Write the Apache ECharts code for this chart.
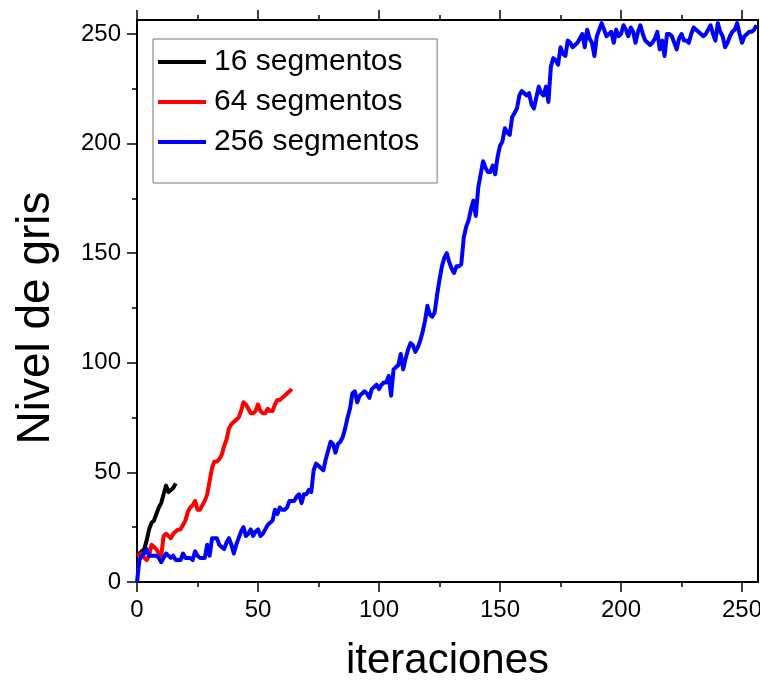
<!DOCTYPE html>
<html>
<head>
<meta charset="utf-8">
<script src="https://cdn.jsdelivr.net/npm/echarts@6/dist/echarts.min.js"></script>
<style>
  html, body { margin: 0; padding: 0; background: #fff; }
  #chart { width: 760px; height: 683px; }
</style>
</head>
<body>
<div id="chart"></div>
<script>
// Gray level reached per iteration, for three segment counts
const seriesNames = ['16 segmentos', '64 segmentos', '256 segmentos'];

const gris16 = [12, 13, 14, 15, 19, 24, 27, 28, 31, 34, 36, 40, 44, 41, 42, 43, 45];

const gris64 = [
  12, 12.5, 13, 11, 10, 12, 17, 16, 15, 13,
  12, 21, 22, 21, 20, 22, 23, 24, 24, 26,
  28, 32, 34, 35, 37, 33, 33, 35, 37, 40,
  46, 52, 55, 55, 56, 58, 62, 65, 70, 72,
  73, 74, 75, 78, 82, 81, 79, 77, 77, 78,
  81, 78, 77, 77, 79, 78, 78, 81, 83, 83,
  84, 85, 86, 87, 88
];

const gris256 = [
  0, 10, 12, 13, 15, 12, 12, 12, 12, 11,
  9, 11, 13, 12, 11, 12, 10, 10, 10, 13,
  11, 11, 11, 10, 14, 12, 11, 11, 11, 17,
  12, 20, 20, 20, 17, 16, 15, 18, 20, 17,
  13, 17, 20, 23, 25, 21, 22, 24, 21, 23,
  24, 21, 22, 24, 26, 27, 28, 33, 31, 34,
  33, 33, 34, 37, 37, 37, 39, 40, 36, 40,
  40, 42, 41, 51, 54, 53, 52, 51, 56, 60,
  64, 63, 59, 63, 64, 66, 70, 75, 79, 86,
  87, 82, 85, 86, 87, 86, 84, 88, 89, 90,
  88, 90, 91, 91, 94, 85, 97, 98, 99, 104,
  97, 102, 106, 109, 108, 105, 107, 110, 114, 119,
  126, 122, 121, 123, 131, 138, 144, 148, 150, 146,
  143, 141, 144, 144, 145, 157, 162, 165, 170, 174,
  167, 180, 186, 192, 189, 187, 187, 190, 186, 194,
  199, 201, 207, 205, 204, 212, 214, 216, 222, 224,
  223, 222, 223, 218, 216, 221, 226, 223, 222, 226,
  219, 235, 239, 238, 236, 244, 241, 240, 247, 246,
  244, 245, 246, 248, 250, 244, 252, 248, 246, 240,
  249, 252, 255, 252, 249, 250, 251, 246, 252, 249,
  250, 254, 252, 249, 253, 251, 246, 251, 254, 250,
  247, 246, 245, 246, 248, 251, 243, 247, 240, 250,
  250, 249, 246, 243, 248, 250, 247, 247, 246, 250,
  253, 252, 251, 250, 249, 250, 252, 254, 250, 247,
  255, 251, 249, 244, 246, 249, 251, 252, 255, 250,
  246, 249, 250, 251, 251, 252, 254
];

// tick positions (major ones carry the labels)
const majorTicks = [0, 50, 100, 150, 200, 250];
const minorTicks = [0, 25, 50, 75, 100, 125, 150, 175, 200, 225, 250];

const xTitle = 'iteraciones';
const yTitle = 'Nivel de gris';
const xMax = 256.6;
const yMax = 256.4;

const FONT = "'Liberation Sans', Arial, sans-serif";
const colors = ['#000000', '#ff0000', '#0000ff'];

// pair each value with its iteration number
const toPairs = arr => arr.map((v, i) => [i, v]);

const chart = echarts.init(document.getElementById('chart'), null, { renderer: 'canvas' });

const frameLine = { show: true, onZero: false, lineStyle: { color: '#000', width: 2 } };
const tickStyle = { color: '#000', width: 1.5 };

function axis(kind, pos, opts) {
  const max = kind === 'x' ? xMax : yMax;
  const base = {
    type: 'value', position: pos, min: 0, max: max, interval: 50,
    splitLine: { show: false },
    axisLine: { show: false, onZero: false },
    axisLabel: { show: false },
    axisTick: { show: false }
  };
  return Object.assign(base, opts);
}

const majorTick = { show: true, inside: false, length: 10, customValues: majorTicks, lineStyle: tickStyle };
const minorTick = { show: true, inside: false, length: 5, customValues: minorTicks, lineStyle: tickStyle };
const tickLabel = { show: true, fontSize: 24, color: '#000', margin: 16, fontFamily: FONT, customValues: majorTicks };

const option = {
  animation: false,
  backgroundColor: '#fff',
  textStyle: { fontFamily: FONT },
  grid: { left: 137, right: 2, top: 20, bottom: 101, containLabel: false, outerBoundsMode: 'none' },
  legend: {
    data: seriesNames,
    orient: 'vertical',
    left: 153,
    top: 39,
    padding: [8, 18, 26, 5],
    itemGap: 10,
    itemWidth: 48,
    itemHeight: 4,
    icon: 'rect',
    borderColor: '#777',
    borderWidth: 1,
    backgroundColor: '#fff',
    textStyle: { fontSize: 30, color: '#000', fontFamily: FONT, lineHeight: 30, padding: [0, 0, 0, 3] }
  },
  xAxis: [
    axis('x', 'bottom', {
      name: xTitle, nameLocation: 'middle', nameGap: 58,
      nameTextStyle: { fontSize: 42, color: '#000', fontFamily: FONT },
      axisLine: frameLine, axisTick: majorTick, axisLabel: tickLabel
    }),
    axis('x', 'bottom', { axisTick: minorTick }),
    axis('x', 'top', { axisLine: frameLine, axisTick: majorTick }),
    axis('x', 'top', { axisTick: minorTick })
  ],
  yAxis: [
    axis('y', 'left', {
      name: yTitle, nameLocation: 'middle', nameGap: 78,
      nameTextStyle: { fontSize: 46, color: '#000', fontFamily: FONT, padding: [0, 34, 0, 0] },
      axisLine: frameLine, axisTick: majorTick, axisLabel: tickLabel
    }),
    axis('y', 'left', { axisTick: minorTick }),
    axis('y', 'right', { axisLine: frameLine })
  ],
  series: [
    { name: seriesNames[0], data: toPairs(gris16) },
    { name: seriesNames[1], data: toPairs(gris64) },
    { name: seriesNames[2], data: toPairs(gris256) }
  ].map((s, i) => Object.assign({
    type: 'line',
    xAxisIndex: 0,
    yAxisIndex: 0,
    showSymbol: false,
    symbol: 'none',
    clip: true,
    color: colors[i],
    itemStyle: { color: colors[i] },
    lineStyle: { color: colors[i], width: 4, join: 'round' }
  }, s))
};

chart.setOption(option);
</script>
</body>
</html>
